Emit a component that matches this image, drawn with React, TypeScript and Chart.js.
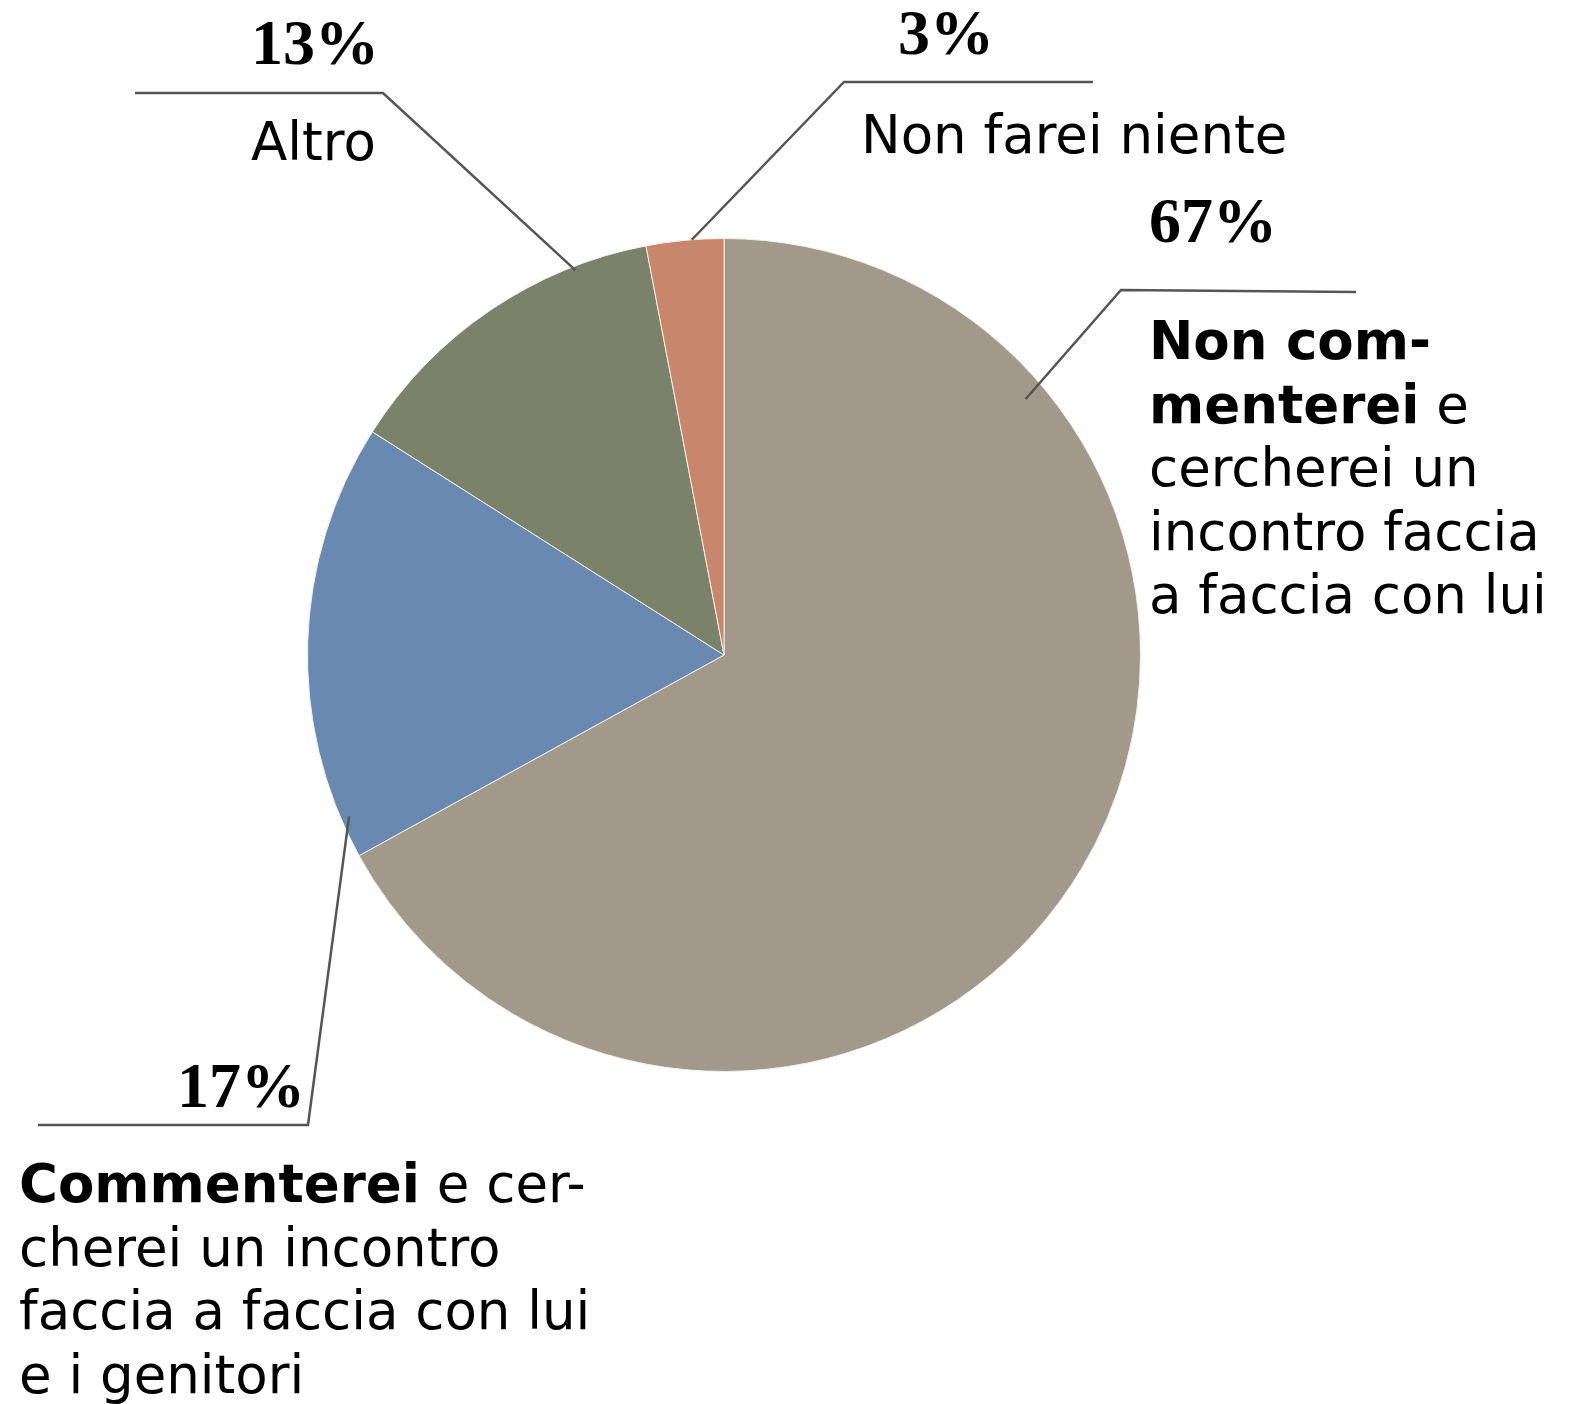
import React, { useEffect, useRef } from "react";
import { Chart, registerables } from "chart.js";

Chart.register(...registerables);

// ---- data ----
const categories = [
  "Non commenterei e cercherei un incontro faccia a faccia con lui",
  "Commenterei e cercherei un incontro faccia a faccia con lui e i genitori",
  "Altro",
  "Non farei niente",
];
const values = [67, 17, 13, 3];
const percentLabels = ["67%", "17%", "13%", "3%"];
const sliceColors = ["#A3998A", "#6A89B0", "#7A826A", "#C8876D"];

// label texts as lines of [text, bold] segments
type Seg = [string, boolean];
const labelLines0: Seg[][] = [
  [["Non com-", true]],
  [["menterei", true], [" e", false]],
  [["cercherei un", false]],
  [["incontro faccia", false]],
  [["a faccia con lui", false]],
];
const labelLines1: Seg[][] = [
  [["Commenterei", true], [" e cer-", false]],
  [["cherei un incontro", false]],
  [["faccia a faccia con lui", false]],
  [["e i genitori", false]],
];
const labelLines2: Seg[][] = [[["Altro", false]]];
const labelLines3: Seg[][] = [[["Non farei niente", false]]];
const labelLines = [labelLines0, labelLines1, labelLines2, labelLines3];

// ---- label layout (offsets from pie centre, px) ----
const layout = [
  { frac: 0.206, rf: 0.95, elbow: [397, -365], end: [632, -363], pct: [425, -413], pctAlign: "left", text: [425, -296] },
  { frac: 0.09, rf: 0.98, elbow: [-416, 470], end: [-686, 470], pct: [-419, 452], pctAlign: "right", text: [-705, 547] },
  { frac: 0.78, rf: 0.99, elbow: [-341, -562], end: [-589, -562], pct: [-345, -591], pctAlign: "right", text: [-473, -495] },
  { frac: 0.59, rf: 1.0, elbow: [120, -573], end: [369, -573], pct: [174, -601], pctAlign: "left", text: [137, -502] },
];

const LINE_H = 63.5;
const PCT_FONT = "bold 64px 'Liberation Serif', 'Times New Roman', serif";
const TXT_FONT = "53px 'DejaVu Sans', Verdana, sans-serif";
const TXT_BOLD = "bold 53px 'DejaVu Sans', Verdana, sans-serif";

const labelPlugin = {
  id: "leaderLabels",
  afterDraw(chart: any) {
    const ctx = chart.ctx as CanvasRenderingContext2D;
    const meta = chart.getDatasetMeta(0);
    meta.data.forEach((arc: any, i: number) => {
      const p = arc.getProps(["x", "y", "startAngle", "endAngle", "outerRadius"], true);
      const L = layout[i];
      const cx = p.x;
      const cy = p.y;
      const a = p.startAngle + (p.endAngle - p.startAngle) * L.frac;
      const r = p.outerRadius * L.rf;
      const ax = cx + Math.cos(a) * r;
      const ay = cy + Math.sin(a) * r;
      ctx.save();
      ctx.strokeStyle = "#555555";
      ctx.lineWidth = 2.5;
      ctx.lineJoin = "miter";
      ctx.beginPath();
      ctx.moveTo(ax, ay);
      ctx.lineTo(cx + L.elbow[0], cy + L.elbow[1]);
      ctx.lineTo(cx + L.end[0], cy + L.end[1]);
      ctx.stroke();

      ctx.fillStyle = "#000";
      ctx.textBaseline = "alphabetic";
      ctx.font = PCT_FONT;
      ctx.textAlign = L.pctAlign as CanvasTextAlign;
      ctx.fillText(percentLabels[i], cx + L.pct[0], cy + L.pct[1]);

      ctx.textAlign = "left";
      const lines = labelLines[i];
      lines.forEach((line, li) => {
        let x = cx + L.text[0];
        const y = cy + L.text[1] + li * LINE_H;
        line.forEach(([t, b]) => {
          ctx.font = b ? TXT_BOLD : TXT_FONT;
          ctx.fillText(t, x, y);
          x += ctx.measureText(t).width;
        });
      });
      ctx.restore();
    });
  },
};

export default function App() {
  const ref = useRef<HTMLCanvasElement | null>(null);
  useEffect(() => {
    if (!ref.current) return;
    const chart = new Chart(ref.current, {
      type: "pie",
      data: {
        labels: categories,
        datasets: [
          {
            data: values,
            backgroundColor: sliceColors,
            borderColor: "#F2EFEA",
            borderWidth: 1,
          },
        ],
      },
      options: {
        responsive: false,
        devicePixelRatio: 1,
        animation: false,
        layout: { padding: { left: 307, top: 238, right: 440, bottom: 332 } },
        plugins: {
          legend: { display: false },
          tooltip: { enabled: false },
        },
      },
      plugins: [labelPlugin],
    });
    return () => chart.destroy();
  }, []);
  return (
    <div style={{ position: "absolute", left: 0, top: 0, width: 1581, height: 1404, background: "#fff" }}>
      <canvas ref={ref} width={1581} height={1404} style={{ width: 1581, height: 1404, display: "block" }} />
    </div>
  );
}
